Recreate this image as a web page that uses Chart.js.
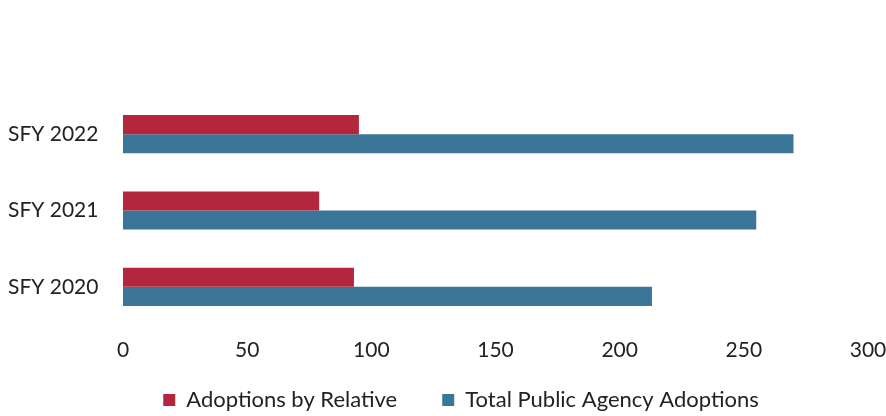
<!DOCTYPE html>
<html>
<head>
<meta charset="utf-8">
<script src="https://cdn.jsdelivr.net/npm/chart.js@4/dist/chart.umd.min.js"></script>
<style>
  html, body { margin: 0; padding: 0; background: #fff; }
  #wrap { width: 886px; height: 416px; }
</style>
</head>
<body>
<div id="wrap"><canvas id="chart" width="886" height="416"></canvas></div>
<script>
// values
const years = ['SFY 2022', 'SFY 2021', 'SFY 2020'];
const byRelative = [95, 79, 93];
const totalPublic = [270, 255, 213];
const xTicks = [0, 50, 100, 150, 200, 250, 300];

const red = '#b3263b';
const blue = '#3b7597';
const txt = '#222';

let ctx = document.getElementById('chart').getContext('2d');

const data = {
  labels: years,
  datasets: [
    { label: 'Adoptions by Relative', data: byRelative, backgroundColor: red },
    { label: 'Total Public Agency Adoptions', data: totalPublic, backgroundColor: blue }
  ]
};

// labels are mirrored with negative padding so they are not clipped
// to the narrow axis boxes (the legend needs the space below)
const config = {
  type: 'bar',
  data: data,
  options: {
    indexAxis: 'y',
    responsive: false,
    animation: false,
    categoryPercentage: 0.5,
    barPercentage: 1.0,
    layout: { padding: { top: 96, right: 0, bottom: 0, left: 36 } },
    scales: {
      x: {
        min: 0, max: 300,
        grid: { display: false },
        border: { display: false },
        afterBuildTicks: (s) => { s.ticks = xTicks.map(v => ({ value: v })); },
        afterFit: (s) => { s.height = 19; s.paddingLeft = 0; s.paddingRight = 18; },
        ticks: { color: txt, mirror: true, padding: -38, font: { family: 'Lato', size: 21 } }
      },
      y: {
        grid: { display: false },
        border: { display: false },
        afterFit: (s) => { s.width = 87; },
        ticks: { color: txt, mirror: true, crossAlign: 'near', padding: -115, font: { family: 'Lato', size: 21 } }
      }
    },
    plugins: {
      legend: {
        position: 'bottom',
        maxHeight: 72,
        labels: {
          color: txt,
          boxWidth: 12, boxHeight: 12,
          padding: 45,
          font: { family: 'Lato', size: 22 }
        }
      },
      tooltip: { enabled: false }
    }
  }
};

var myChart = new Chart(ctx, config);
</script>
</body>
</html>
